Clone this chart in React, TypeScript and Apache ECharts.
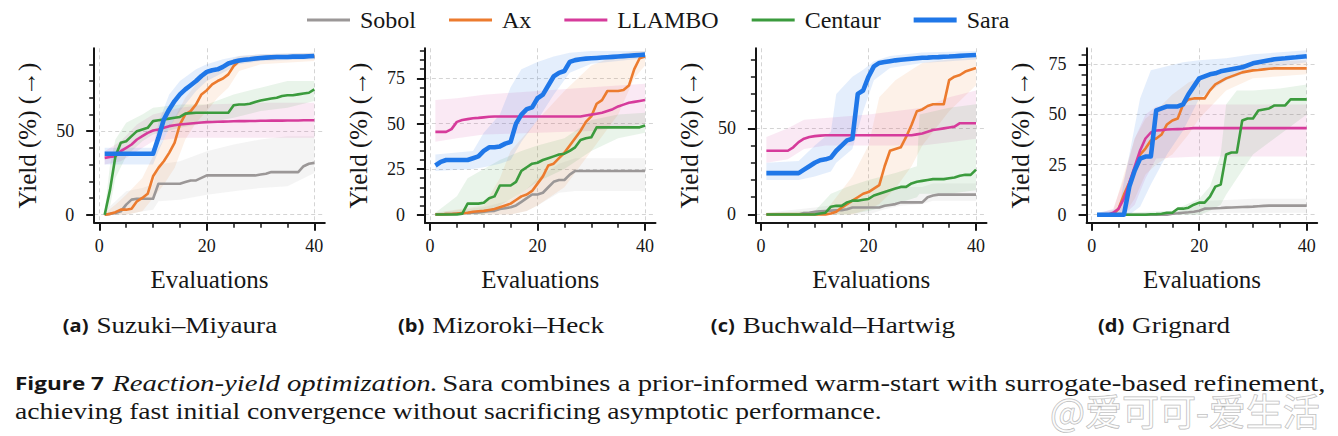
import { useEffect, useRef } from "react";
import * as echarts from "echarts";

// ---------- data ----------
const EVALS = [1, 2, 3, 4, 5, 6, 7, 8, 9, 10, 11, 12, 13, 14, 15, 16, 17, 18, 19, 20, 21, 22, 23, 24, 25, 26, 27, 28, 29, 30, 31, 32, 33, 34, 35, 36, 37, 38, 39, 40];
const METHODS = ["Sobol", "Ax", "LLAMBO", "Centaur", "Sara"];
const PANEL_TAGS = ["(a)", "(b)", "(c)", "(d)"];
const PANEL_TITLES = ["Suzuki–Miyaura", "Mizoroki–Heck", "Buchwald–Hartwig", "Grignard"];

// (a) Suzuki–Miyaura
const sobolA = [0, 0.5, 1, 2, 6, 9, 9.5, 9.5, 9.5, 9.5, 18.5, 18.5, 18.5, 18.5, 18.5, 19.5, 20.5, 20.5, 22, 23.5, 23.5, 23.5, 23.5, 23.5, 23.5, 23.5, 23.5, 23.5, 23.5, 24, 24.5, 25.5, 25.5, 25.5, 25.5, 25.5, 25.5, 29, 30.5, 31];
const axA = [0, 0.5, 1.5, 3, 3, 3.5, 8, 10, 12.5, 23, 28, 32, 37, 43, 54, 60, 62, 66, 72, 74.5, 78, 80, 81.5, 84, 89, 92, 92.5, 92.8, 93, 93.3, 93.5, 93.7, 93.9, 94, 94.1, 94.2, 94.3, 94.4, 94.5, 94.6];
const llamboA = [34, 34.5, 35, 38, 40, 42, 45, 47, 49, 50.4, 51, 52, 53, 53.5, 54, 54.3, 54.6, 54.9, 55.2, 55.4, 55.5, 55.6, 55.7, 55.8, 55.9, 56, 56, 56.1, 56.1, 56.2, 56.2, 56.3, 56.3, 56.3, 56.4, 56.4, 56.4, 56.5, 56.5, 56.5];
const centaurA = [0, 15, 35, 43, 44, 47, 50, 51, 52, 56, 56.5, 57, 57.5, 58, 58.5, 60.5, 60.8, 61, 61, 61, 61, 61, 61, 61, 65.5, 66, 66, 66.4, 67.5, 68.4, 69, 69.5, 70, 71, 71.5, 71.5, 72, 72.5, 73, 75];
const saraA = [36.5, 36.5, 36.5, 36.5, 36.5, 36.5, 36.5, 36.5, 36.5, 36.5, 46, 57, 63, 68, 72, 75, 77.5, 80, 83, 85.5, 86.5, 87, 88.5, 90.5, 91.5, 92.3, 92.7, 93, 93.5, 93.8, 94, 94.2, 94.4, 94.4, 94.4, 94.6, 94.6, 94.6, 94.8, 95];
// bands: [evaluation, lower, upper]
const sobolBandA = [[1, 0, 2], [3, 0, 8], [5, 0, 14], [8, 2, 16], [10, 3, 18], [11, 8, 30], [15, 9, 32], [20, 12, 38], [25, 14, 42], [30, 16, 45], [35, 17, 47], [40, 25, 47]];
const axBandA = [[1, 0, 1], [3, 0, 6], [5, 0, 12], [8, 2, 22], [10, 10, 35], [12, 18, 45], [14, 28, 58], [16, 45, 70], [18, 55, 78], [20, 62, 85], [22, 70, 88], [24, 76, 92], [26, 86, 95], [30, 90, 96], [40, 92, 97]];
const llamboBandA = [[1, 30, 38], [4, 32, 44], [7, 38, 54], [10, 44, 60], [15, 46, 64], [20, 46, 66], [30, 46, 67], [40, 46, 67]];
const centaurBandA = [[1, 0, 2], [2, 5, 30], [3, 22, 45], [5, 35, 55], [8, 44, 60], [10, 48, 64], [15, 52, 66], [20, 55, 66], [25, 58, 72], [30, 62, 76], [35, 64, 80], [40, 68, 80]];
const saraBandA = [[1, 30, 40], [10, 30, 40], [11, 38, 55], [13, 52, 72], [15, 62, 80], [18, 74, 87], [20, 80, 90], [23, 85, 93], [26, 90, 95], [30, 92, 96], [40, 93, 97]];

// (b) Mizoroki–Heck
const sobolB = [0, 0, 0.2, 0.3, 0.5, 0.6, 0.8, 1, 1.2, 1.5, 1.8, 2, 3, 3.5, 4, 5, 7, 9, 11, 11, 12, 15, 18, 19, 19, 22, 24, 24, 24, 24, 24, 24, 24, 24, 24, 24, 24, 24, 24, 24];
const axB = [0, 0, 0.2, 0.3, 0.5, 0.8, 1, 1.5, 1.8, 2, 2.5, 3, 4, 5, 6, 8, 10, 11, 13, 17, 21, 27, 28, 31, 34, 38, 42, 46, 51, 54, 61, 63, 68, 68, 68, 68.5, 71, 80, 86, 87];
const llamboB = [45.5, 45.5, 45.5, 47, 51, 52, 52.5, 53, 53.2, 53.5, 53.8, 54, 54, 54, 54, 54, 54, 54, 54, 54, 54, 54, 54, 54, 54, 54, 54, 54, 54.5, 55, 55.5, 56, 57, 58, 59.5, 60.5, 61.5, 62, 62.5, 63];
const centaurB = [0, 0, 0, 0, 0, 0.5, 6, 6, 6, 6.5, 9, 10, 16, 16, 16, 18, 24, 26, 28, 28.5, 30, 31, 32, 33, 33.5, 35, 37, 41, 42, 42.5, 48, 48, 48, 48, 48, 48, 48, 48, 48, 49];
const saraB = [27, 29, 30, 30, 30, 30, 30, 31, 32, 35, 37, 37, 37.5, 39, 40, 50, 55, 58, 59, 64, 66, 71, 76, 78, 79, 84, 85, 85.5, 85.8, 86, 86.2, 86.4, 86.6, 86.8, 87, 87.2, 87.4, 87.6, 87.8, 88];
const sobolBandB = [[1, 0, 1], [10, 0, 4], [15, 0, 8], [18, 2, 14], [20, 5, 20], [24, 12, 28], [27, 13, 31], [40, 13, 31]];
const axBandB = [[1, 0, 1], [10, 0, 5], [13, 0, 20], [15, 0, 35], [18, 2, 45], [20, 5, 52], [25, 15, 68], [30, 35, 82], [35, 55, 88], [38, 75, 90], [40, 82, 90]];
const llamboBandB = [[1, 40, 63], [5, 42, 64], [10, 44, 66], [20, 45, 68], [30, 46, 70], [40, 50, 72]];
const centaurBandB = [[1, 0, 1], [5, 0, 10], [7, 0, 20], [10, 0, 25], [13, 5, 30], [17, 12, 35], [20, 18, 38], [25, 25, 42], [30, 35, 52], [35, 42, 55], [40, 45, 56]];
const saraBandB = [[1, 24, 33], [8, 25, 35], [10, 26, 45], [13, 28, 55], [15, 30, 70], [17, 40, 80], [20, 52, 84], [23, 66, 87], [26, 78, 89], [30, 83, 90], [40, 86, 90]];

// (c) Buchwald–Hartwig
const sobolC = [0, 0, 0, 0, 0, 0, 0, 0.8, 1, 1.5, 1.8, 2, 2.2, 2.4, 2.5, 3, 4, 4, 4, 4, 4, 4, 5, 5.5, 6, 7, 7, 7, 7, 7, 10, 11, 11.5, 11.5, 11.5, 11.5, 11.5, 11.5, 11.5, 11.5];
const axC = [0, 0, 0, 0, 0, 0, 0, 0, 0, 0, 0, 0, 0.5, 1.5, 4, 6, 8, 10, 12, 13, 15, 17, 28, 37, 38, 39, 45, 52, 60, 61, 63, 64, 64, 64, 78, 80, 81, 83, 84, 85];
const llamboC = [37, 37, 37, 37, 37, 39, 42, 44, 45, 45.5, 45.8, 46, 46, 46, 46, 46, 46, 46, 46, 46, 46, 46, 46, 46, 46, 46, 46, 46, 46.5, 47, 48, 49, 49.5, 50, 50.5, 51, 53, 53, 53, 53];
const centaurC = [0, 0, 0, 0, 0, 0, 0, 0, 0, 0, 0.5, 1, 4.5, 5, 5, 7, 8, 8, 8.5, 9, 11, 12, 13, 14, 15, 16, 16, 18, 19, 19.5, 20, 20.5, 20.5, 20.5, 21, 21.5, 22.5, 23, 23, 26];
const saraC = [24, 24, 24, 24, 24, 24, 24, 26, 28, 30, 31.5, 32, 33, 37, 40, 43, 44, 70, 72, 80, 86, 88, 88.5, 89, 89.5, 89.8, 90.1, 90.4, 90.7, 91, 91.1, 91.3, 91.4, 91.6, 91.7, 91.9, 92.1, 92.3, 92.5, 92.6];
const sobolBandC = [[1, 0, 1], [10, 0, 4], [15, 0, 6], [20, 0, 9], [23, 3, 14], [26, 5, 16], [30, 6, 16], [32, 8, 18], [40, 8, 18]];
const axBandC = [[1, 0, 1], [12, 0, 2], [14, 0, 10], [17, 0, 22], [20, 3, 40], [22, 6, 68], [25, 15, 78], [28, 28, 84], [30, 40, 88], [35, 60, 90], [40, 75, 91]];
const llamboBandC = [[1, 30, 45], [5, 32, 50], [8, 38, 55], [12, 40, 56], [20, 40, 58], [30, 40, 62], [35, 42, 68], [40, 44, 72]];
const centaurBandC = [[1, 0, 1], [10, 0, 2], [13, 0, 12], [16, 0, 16], [20, 2, 20], [25, 6, 24], [29, 10, 28], [29.5, 12, 58], [35, 12, 62], [40, 14, 64]];
const saraBandC = [[1, 20, 30], [7, 20, 31], [10, 22, 40], [13, 25, 48], [14, 30, 70], [17, 38, 80], [19, 60, 84], [21, 78, 89], [24, 85, 92], [30, 88, 94], [40, 90, 95]];

// (d) Grignard
const sobolD = [0, 0, 0, 0, 0, 0, 0, 0, 0, 0, 0, 0, 0, 0, 0.5, 0.7, 1, 1.2, 1.5, 2, 3, 3.1, 3.2, 3.3, 3.5, 3.6, 3.7, 3.8, 3.9, 4, 4.2, 4.4, 4.5, 4.5, 4.5, 4.5, 4.5, 4.5, 4.5, 4.5];
const axD = [0, 0, 0, 0, 3, 10, 16, 22, 30, 33, 37, 38, 40, 45, 47, 48, 55, 57.5, 58, 58, 58, 62, 65, 66.5, 68, 69, 70, 71, 71.5, 72, 72.2, 72.5, 72.8, 73, 73, 73, 73, 73, 73, 73];
const llamboD = [0, 0, 0, 1, 3, 8, 16, 24, 32, 38, 41, 42, 42.2, 42.5, 42.6, 42.7, 42.8, 43, 43.2, 43.2, 43.2, 43.2, 43.2, 43.2, 43.2, 43.2, 43.2, 43.2, 43.2, 43.2, 43.2, 43.2, 43.2, 43.2, 43.2, 43.2, 43.2, 43.2, 43.2, 43.2];
const centaurD = [0, 0, 0, 0, 0, 0, 0, 0, 0, 0, 0.2, 0.3, 0.5, 1, 1, 3, 3, 3.5, 5, 6, 6, 9, 14, 15, 30, 31, 31, 47, 48, 48, 52, 52.5, 53, 54.5, 54.5, 54.5, 57.5, 57.5, 57.5, 57.5];
const saraD = [0, 0, 0, 0, 0, 0, 14, 22, 28, 29, 29, 52, 53, 54, 54, 54, 55, 60, 64, 68, 69, 70, 70.5, 71.5, 72, 72.5, 73, 73.5, 74.5, 75.5, 76, 76.5, 77, 77.5, 77.8, 78, 78.3, 78.5, 78.8, 79];
const sobolBandD = [[1, 0, 0.5], [15, 0, 1], [20, 0, 5], [22, 1, 7], [30, 1, 8], [40, 1, 8]];
const axBandD = [[1, 0, 0.5], [4, 0, 2], [6, 0, 20], [8, 8, 38], [10, 20, 48], [12, 25, 52], [15, 30, 60], [18, 40, 66], [20, 48, 68], [25, 62, 73], [30, 68, 76], [40, 70, 77]];
const llamboBandD = [[1, 0, 0.5], [4, 0, 3], [6, 0, 18], [8, 5, 38], [10, 18, 50], [12, 28, 54], [20, 29, 55], [40, 29, 55]];
const centaurBandD = [[1, 0, 0.5], [15, 0, 2], [20, 0, 8], [22, 2, 14], [24, 5, 30], [25, 10, 55], [27, 18, 62], [30, 30, 62], [35, 40, 63], [40, 50, 65]];
const saraBandD = [[1, 0, 1], [5, 0, 3], [7, 0, 30], [9, 4, 58], [11, 15, 72], [14, 30, 74], [17, 42, 76], [20, 58, 77], [25, 67, 78], [30, 72, 80], [40, 76, 82]];

const MEANS = [
  [sobolA, axA, llamboA, centaurA, saraA],
  [sobolB, axB, llamboB, centaurB, saraB],
  [sobolC, axC, llamboC, centaurC, saraC],
  [sobolD, axD, llamboD, centaurD, saraD],
];
const BANDS = [
  [sobolBandA, axBandA, llamboBandA, centaurBandA, saraBandA],
  [sobolBandB, axBandB, llamboBandB, centaurBandB, saraBandB],
  [sobolBandC, axBandC, llamboBandC, centaurBandC, saraBandC],
  [sobolBandD, axBandD, llamboBandD, centaurBandD, saraBandD],
];

// axis ticks / limits
const X_MAJOR = [0, 20, 40];
const X_MINOR = [5, 10, 15, 25, 30, 35];
const Y_MAJOR = [[0, 50], [0, 25, 50, 75], [0, 50], [0, 25, 50, 75]];
const Y_MINOR = [
  [10, 20, 30, 40, 60, 70, 80, 90],
  [5, 10, 15, 20, 30, 35, 40, 45, 55, 60, 65, 70, 80, 85, 90],
  [10, 20, 30, 40, 60, 70, 80, 90],
  [5, 10, 15, 20, 30, 35, 40, 45, 55, 60, 65, 70, 80],
];
const Y_MIN = [-4.8, -4.5, -4.8, -4];
const Y_MAX = [99.6, 91.5, 96.5, 83];
const X_MIN = -0.95;
const X_MAX = 41.95;

// ---------- styles ----------
const COLORS = ["#9b9797", "#ec7b2e", "#d63b9b", "#3b9b3d", "#1f77e8"];
const WIDTHS = [2.6, 2.6, 2.6, 2.6, 4.6];
const BAND_OPACITY = [0.11, 0.11, 0.11, 0.11, 0.12];
const SERIF = "Liberation Serif";
const SANS = "Open Sans";
const INK = "#161616";
const GRID_LEFT = [94.2, 424.9, 755.9, 1086.6];
const GRID_TOP = 48.3;
const GRID_W = 230.6;
const GRID_H = 174.4;
const CAPTION_CX = [170, 501, 833, 1164];

export default function App() {
  const ref = useRef<HTMLDivElement>(null);

  useEffect(() => {
    document.body.style.margin = "0";
    const chart = echarts.init(ref.current!, null, { renderer: "svg" });

    const grids: any[] = [];
    const xAxes: any[] = [];
    const yAxes: any[] = [];
    const series: any[] = [];
    const graphics: any[] = [];

    for (let p = 0; p < 4; p++) {
      grids.push({ left: GRID_LEFT[p], top: GRID_TOP, width: GRID_W, height: GRID_H, containLabel: false });
      const split = { show: true, lineStyle: { color: "#cfcfcf", width: 0.9, type: [4, 3] } };
      xAxes.push({
        gridIndex: p, type: "value", min: X_MIN, max: X_MAX, position: "bottom",
        axisLine: { show: true, onZero: false, lineStyle: { color: INK, width: 2 } },
        axisTick: { show: true, length: 8, lineStyle: { color: INK, width: 2 }, customValues: X_MAJOR },
        axisLabel: { show: true, customValues: X_MAJOR, fontFamily: SERIF, fontSize: 18, color: INK, margin: 14 },
        splitLine: split,
        name: "Evaluations", nameLocation: "middle", nameGap: 44,
        nameTextStyle: { fontFamily: SERIF, fontSize: 25, color: INK },
      });
      xAxes.push({
        gridIndex: p, type: "value", min: X_MIN, max: X_MAX, position: "bottom",
        axisLine: { show: false, onZero: false },
        axisTick: { show: true, length: 5, lineStyle: { color: INK, width: 1.5 }, customValues: X_MINOR },
        axisLabel: { show: false },
        splitLine: { show: false },
      });
      yAxes.push({
        gridIndex: p, type: "value", min: Y_MIN[p], max: Y_MAX[p], position: "left",
        axisLine: { show: true, onZero: false, lineStyle: { color: INK, width: 2 } },
        axisTick: { show: true, length: 8, lineStyle: { color: INK, width: 2 }, customValues: Y_MAJOR[p] },
        axisLabel: { show: true, customValues: Y_MAJOR[p], fontFamily: SERIF, fontSize: 18, color: INK, margin: 20 },
        splitLine: split,
        name: "Yield (%) (→)", nameLocation: "middle", nameGap: 54, nameRotate: 90,
        nameTextStyle: { fontFamily: SERIF, fontSize: 25, color: INK },
      });
      yAxes.push({
        gridIndex: p, type: "value", min: Y_MIN[p], max: Y_MAX[p], position: "left",
        axisLine: { show: false, onZero: false },
        axisTick: { show: true, length: 5, lineStyle: { color: INK, width: 1.5 }, customValues: Y_MINOR[p] },
        axisLabel: { show: false },
        splitLine: { show: false },
      });

      // bands
      for (let m = 0; m < METHODS.length; m++) {
        const band = BANDS[p][m];
        const color = COLORS[m];
        const op = BAND_OPACITY[m];
        series.push({
          type: "custom",
          xAxisIndex: p * 2,
          yAxisIndex: p * 2,
          data: band,
          encode: { x: 0, y: [1, 2] },
          silent: true,
          z: 1,
          renderItem: (params: any, api: any) => {
            if (params.dataIndex !== 0) return null;
            const upper = band.map((r) => api.coord([r[0], r[2]]));
            const lower = band.slice().reverse().map((r) => api.coord([r[0], r[1]]));
            return {
              type: "polygon",
              shape: { points: upper.concat(lower) },
              style: { fill: color, opacity: op },
            };
          },
        });
      }
      // mean lines
      for (let m = 0; m < METHODS.length; m++) {
        const ys = MEANS[p][m];
        series.push({
          type: "line",
          name: METHODS[m],
          xAxisIndex: p * 2,
          yAxisIndex: p * 2,
          data: EVALS.map((x, i) => [x, ys[i]]),
          showSymbol: false,
          symbol: "none",
          color: COLORS[m],
          lineStyle: { color: COLORS[m], width: WIDTHS[m], cap: "butt", join: "round" },
          z: 3 + m,
          silent: true,
          emphasis: { disabled: true },
        });
      }

      graphics.push({
        type: "text",
        x: CAPTION_CX[p],
        y: 325,
        scaleX: 1.18,
        style: {
          text: `{t|${PANEL_TAGS[p]}}  {n|${PANEL_TITLES[p]}}`,
          align: "center",
          verticalAlign: "middle",
          rich: {
            t: { fontFamily: SANS, fontWeight: "bold", fontSize: 17, fill: INK },
            n: { fontFamily: SERIF, fontSize: 23, fill: INK },
          },
        },
      });
    }

    graphics.push({
      type: "text",
      x: 15,
      y: 383,
      scaleX: 1.25,
      style: {
        text: "{b|Figure 7}  {i|Reaction-yield optimization.} {r|Sara combines a prior-informed warm-start with surrogate-based refinement,}",
        verticalAlign: "middle",
        rich: {
          b: { fontFamily: SANS, fontWeight: "bold", fontSize: 18, fill: INK },
          i: { fontFamily: SERIF, fontStyle: "italic", fontSize: 23, fill: INK },
          r: { fontFamily: SERIF, fontSize: 23, fill: INK },
        },
      },
    });
    graphics.push({
      type: "text",
      x: 15,
      y: 411,
      scaleX: 1.2,
      style: {
        text: "achieving fast initial convergence without sacrificing asymptotic performance.",
        verticalAlign: "middle",
        fontFamily: SERIF,
        fontSize: 23,
        fill: INK,
      },
    });
    graphics.push({
      type: "text",
      x: 1050,
      y: 410,
      z: 100,
      style: {
        text: "@爱可可-爱生活",
        verticalAlign: "middle",
        fontFamily: "Noto Sans CJK SC",
        fontSize: 37,
        fill: "rgba(255,255,255,0.55)",
        stroke: "rgba(150,150,150,0.7)",
        lineWidth: 1,
      },
    });

    chart.setOption({
      animation: false,
      backgroundColor: "#ffffff",
      legend: {
        show: true,
        left: 307,
        top: 8,
        padding: 0,
        itemWidth: 43,
        itemHeight: 5,
        itemGap: 33,
        selectedMode: false,
        textStyle: { fontFamily: SERIF, fontSize: 24, color: INK, padding: [0, 0, 0, 5] },
        data: METHODS.map((name, m) => ({
          name,
          icon: m === 4 ? "path://M0,0H43V5H0Z" : "path://M0,0H43V3H0Z",
        })),
      },
      grid: grids,
      xAxis: xAxes,
      yAxis: yAxes,
      series,
      graphic: graphics,
    });

    return () => chart.dispose();
  }, []);

  return <div ref={ref} style={{ width: 1338, height: 436 }} />;
}
